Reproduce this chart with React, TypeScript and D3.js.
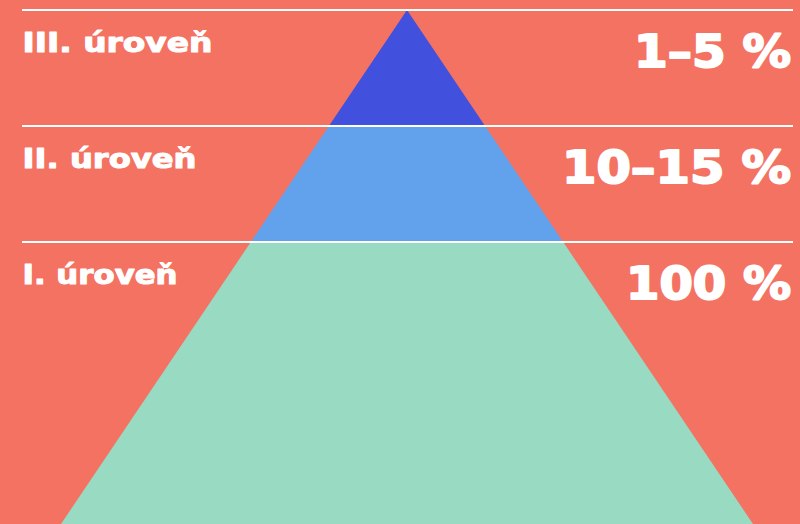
import { useMemo } from 'react';
import * as d3 from 'd3';

// Levels listed bottom → top
const levelLabels = ['I. úroveň', 'II. úroveň', 'III. úroveň'];
const levelShares = ['100 %', '10–15 %', '1–5 %'];
const levelColors = ['#98dac2', '#62a1ec', '#4150dd'];
// Widths (px) the display font gives each string in the original
const labelWidths = [156, 175, 191];
const shareWidths = [167, 231, 159];

const W = 800;
const H = 524;
const BG = '#f47262';

export default function App() {
  const apexX = 407;
  // step from apex (0 = tip) → vertical pixel position
  const yStep = useMemo(() => d3.scaleLinear().domain([0, 1]).range([10, 126]), []);
  // vertical pixel → half-width of the pyramid
  const halfW = useMemo(() => d3.scaleLinear().domain([yStep(0), H]).range([0, 346]), [yStep]);

  const n = levelLabels.length;
  const line = d3.line<[number, number]>();

  const bands = levelLabels.map((_, i) => {
    // i = 0 is bottom level; it occupies steps (n-1-i) .. (n-i)
    const s0 = n - 1 - i;
    const yTop = yStep(s0);
    const yBot = i === 0 ? H : yStep(s0 + 1);
    const pts: [number, number][] = [
      [apexX - halfW(yTop), yTop],
      [apexX + halfW(yTop), yTop],
      [apexX + halfW(yBot), yBot],
      [apexX - halfW(yBot), yBot],
    ];
    return { i, yTop, d: line(pts) + 'Z' };
  });

  return (
    <svg
      width={W}
      height={H}
      style={{ position: 'absolute', left: 0, top: 0, display: 'block' }}
    >
      <rect width={W} height={H} fill={BG} />
      {bands.map((b) => (
        <path key={`band-${b.i}`} d={b.d} fill={levelColors[b.i]} />
      ))}
      {bands.map((b) => (
        <g key={`txt-${b.i}`}>
          <line x1={22} x2={793} y1={b.yTop} y2={b.yTop} stroke="#fff" strokeWidth={2} />
          <text
            x={22.5}
            y={b.yTop + 41.5}
            fill="#fff"
            stroke="#fff"
            strokeWidth={1}
            strokeLinejoin="round"
            fontFamily="'DejaVu Sans', sans-serif"
            fontWeight={700}
            fontSize={26}
            textLength={labelWidths[b.i] - 1}
            lengthAdjust="spacingAndGlyphs"
          >
            {levelLabels[b.i]}
          </text>
          <text
            x={792 - shareWidths[b.i] + 1}
            y={b.yTop + 56.5}
            fill="#fff"
            stroke="#fff"
            strokeWidth={2}
            strokeLinejoin="round"
            fontFamily="'DejaVu Sans', sans-serif"
            fontWeight={700}
            fontSize={45}
            textLength={shareWidths[b.i] - 2}
            lengthAdjust="spacingAndGlyphs"
          >
            {levelShares[b.i]}
          </text>
        </g>
      ))}
    </svg>
  );
}
